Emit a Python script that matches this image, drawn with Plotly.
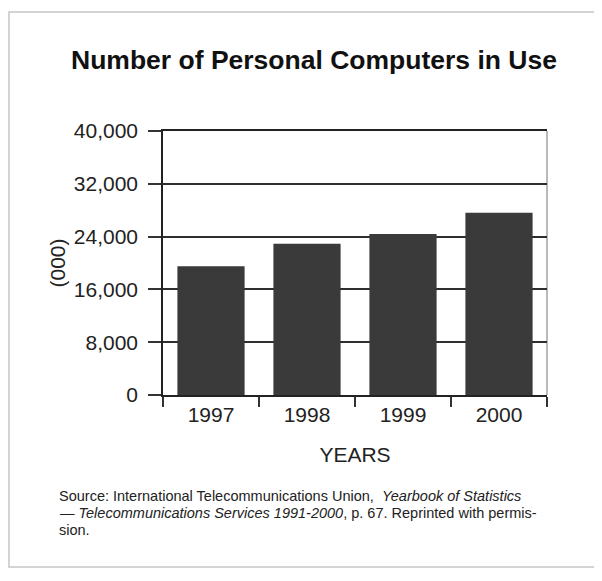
import plotly.graph_objects as go

# Data
years = ["1997", "1998", "1999", "2000"]
pcs_thousands = [19500, 22900, 24400, 27600]
y_tick_values = [0, 8000, 16000, 24000, 32000, 40000]
y_tick_labels = ["0", "8,000", "16,000", "24,000", "32,000", "40,000"]

title_text = "Number of Personal Computers in Use"
source_lines = [
    "Source: International Telecommunications Union,  <i>Yearbook of Statistics</i>",
    "<i>— Telecommunications Services 1991-2000</i>, p. 67. Reprinted with permis-",
    "sion.",
]

FONT = "Liberation Sans, Arial, Helvetica, sans-serif"
# page body has an 8px margin, so the figure is drawn 8px smaller
W, H = 594, 573
L, R, T, B = 155, 55, 123, 186
plot_w = W - L - R
plot_h = H - T - B


def px_to_paper_x(px):
    return (px - L) / plot_w


def px_to_paper_y(py):
    return (H - B - py) / plot_h


fig = go.Figure()
fig.add_trace(go.Bar(
    x=years,
    y=pcs_thousands,
    marker=dict(color="#3a3a3a", line=dict(width=0)),
    width=0.70,
    hoverinfo="x+y",
))

annotations = []
src_y = [488, 505, 522]
for line, yy in zip(source_lines, src_y):
    annotations.append(dict(
        text=line, xref="paper", yref="paper",
        x=px_to_paper_x(49), y=px_to_paper_y(yy),
        xanchor="left", yanchor="middle", showarrow=False,
        font=dict(family=FONT, size=14.5, color="#222222"),
        align="left",
    ))

shapes = [
    # outer light frame
    dict(type="rect", xref="paper", yref="paper",
         x0=px_to_paper_x(1), x1=px_to_paper_x(640),
         y0=px_to_paper_y(559), y1=px_to_paper_y(4),
         line=dict(color="#d4d4d4", width=2), layer="below"),
    # right border of plot area
    dict(type="line", xref="paper", yref="paper",
         x0=1, x1=1, y0=0, y1=1,
         line=dict(color="#8a8a8a", width=1.2), layer="below"),
]

fig.update_layout(
    width=W, height=H,
    margin=dict(l=L, r=R, t=T, b=B, pad=0),
    paper_bgcolor="white",
    plot_bgcolor="white",
    showlegend=False,
    title=dict(
        text="<b>" + title_text + "</b>",
        x=306 / W, xanchor="center",
        y=1 - 52 / H, yanchor="middle", yref="container",
        font=dict(family=FONT, size=26.5, color="#111111"),
    ),
    xaxis=dict(
        type="category",
        showline=True, mirror=True, linecolor="#222222", linewidth=1.5,
        ticks="outside", tickson="boundaries", ticklen=10,
        tickcolor="#333333", tickwidth=1.5,
        showgrid=False,
        tickfont=dict(family=FONT, size=21, color="#222222"),
        title=dict(text="YEARS", standoff=22,
                   font=dict(family=FONT, size=21, color="#222222")),
        automargin=False,
    ),
    yaxis=dict(
        range=[0, 40000],
        tickvals=y_tick_values, ticktext=y_tick_labels,
        showline=True, linecolor="#222222", linewidth=1.5,
        ticks="outside", ticklen=13, tickcolor="#333333", tickwidth=1.5,
        ticklabelstandoff=6,
        showgrid=True, gridcolor="#2e2e2e", gridwidth=1.5,
        zeroline=False,
        tickfont=dict(family=FONT, size=21, color="#222222"),
        title=dict(text="(000)", standoff=2,
                   font=dict(family=FONT, size=21, color="#222222")),
        automargin=False,
    ),
    annotations=annotations,
    shapes=shapes,
)

fig.write_html("out.html")
